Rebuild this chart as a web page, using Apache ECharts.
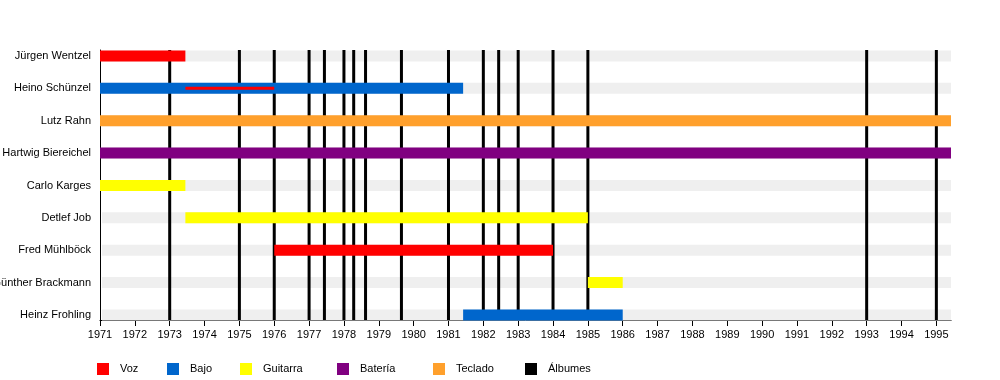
<!DOCTYPE html>
<html>
<head>
<meta charset="utf-8">
<script src="https://cdn.jsdelivr.net/npm/echarts@6/dist/echarts.min.js"></script>
<style>
html,body{margin:0;padding:0;background:#fff;}
#chart{width:1000px;height:380px;}
</style>
</head>
<body>
<div id="chart"></div>
<script>
// Members, top to bottom
const members = ["Jürgen Wentzel","Heino Schünzel","Lutz Rahn","Hartwig Biereichel","Carlo Karges","Detlef Job","Fred Mühlböck","Günther Brackmann","Heinz Frohling"];
// Periods per role: [member, start, end]
const vozPeriods = [["Jürgen Wentzel",1971,1973.45],["Fred Mühlböck",1976,1984]];
const vozSecondary = [["Heino Schünzel",1973.45,1976]];
const bajoPeriods = [["Heino Schünzel",1971,1981.42],["Heinz Frohling",1981.42,1986]];
const guitarraPeriods = [["Carlo Karges",1971,1973.45],["Detlef Job",1973.45,1985],["Günther Brackmann",1985,1986]];
const bateriaPeriods = [["Hartwig Biereichel",1971,1995.42]];
const tecladoPeriods = [["Lutz Rahn",1971,1995.42]];
// Album release dates
const albums = [1973,1975,1976,1977,1977.44,1978,1978.28,1978.62,1979.65,1981,1982,1982.44,1983,1984,1985,1993,1995];
// Axis
const years = [1971,1972,1973,1974,1975,1976,1977,1978,1979,1980,1981,1982,1983,1984,1985,1986,1987,1988,1989,1990,1991,1992,1993,1994,1995];
const timelineStart = 1971, timelineEnd = 1995.42;

const FONT = '"Liberation Sans", Arial, sans-serif';
const rowIdx = name => members.length - 1 - members.indexOf(name);
const toData = arr => arr.map(p => [p[1], p[2], rowIdx(p[0])]);

function barRender(h){
  return function(params, api){
    const s = api.coord([api.value(0), api.value(2)]);
    const e = api.coord([api.value(1), api.value(2)]);
    return {type:'rect', shape:{x:s[0], y:s[1]-h/2, width:e[0]-s[0], height:h}, style:{fill: api.visual('color')}};
  };
}
function roleSeries(name, color, periods, h){
  return {name, type:'custom', z:3, silent:true, itemStyle:{color},
    encode:{x:[0,1], y:2}, data: toData(periods), renderItem: barRender(h)};
}

const chart = echarts.init(document.getElementById('chart'), null, {renderer:'canvas'});
const legendItems = [["Voz",97],["Bajo",167],["Guitarra",240],["Batería",337],["Teclado",433],["Álbumes",525]];

chart.setOption({
  animation:false,
  backgroundColor:'#fff',
  textStyle:{fontFamily:FONT},
  grid:{left:100, right:49, top:50, bottom:60, containLabel:false, outerBoundsMode:'none'},
  xAxis:{type:'value', min:timelineStart, max:timelineEnd, position:'bottom',
    axisLine:{show:true, onZero:false, lineStyle:{color:'#000', width:1}},
    axisTick:{show:true, inside:false, length:6, lineStyle:{color:'#000', width:1}, customValues:years},
    axisLabel:{color:'#000', fontSize:11, fontFamily:FONT, margin:9, customValues:years, formatter:v=>String(Math.round(v))},
    splitLine:{show:false}},
  yAxis:{type:'value', min:-0.155, max:8.185,
    axisLine:{show:true, onZero:false, lineStyle:{color:'#000', width:1}},
    axisTick:{show:false},
    axisLabel:{color:'#000', fontSize:11, fontFamily:FONT, margin:9, customValues:members.map((m,i)=>i),
      formatter:v=>members[members.length-1-Math.round(v)]},
    splitLine:{show:false}},
  legend: legendItems.map(([n,x]) => ({data:[n], left:x, top:363, icon:'rect', itemWidth:12, itemHeight:12,
    selectedMode:false, padding:0, textStyle:{color:'#000', fontSize:11, fontFamily:FONT, padding:[0,0,0,6]}})),
  series:[
    {name:'bands', type:'custom', z:1, silent:true, encode:{y:0},
      data: members.map((m,i)=>[i]),
      renderItem:function(params, api){
        const c = api.coord([timelineStart, api.value(0)]);
        const cs = params.coordSys;
        return {type:'rect', shape:{x:cs.x+2, y:c[1]-5.5, width:cs.width-2, height:11}, style:{fill:'#efefef'}};
      }},
    {name:'Álbumes', type:'custom', z:2, silent:true, itemStyle:{color:'#000'}, encode:{x:0},
      data: albums.map(a=>[a]),
      renderItem:function(params, api){
        const x = api.coord([api.value(0), 0])[0];
        const cs = params.coordSys;
        return {type:'line', shape:{x1:x, y1:cs.y, x2:x, y2:cs.y+cs.height}, style:{stroke:'#000', lineWidth:3}};
      }},
    roleSeries('Voz','#ff0000',vozPeriods,11),
    roleSeries('Bajo','#0066cc',bajoPeriods,11),
    roleSeries('Guitarra','#ffff00',guitarraPeriods,11),
    roleSeries('Batería','#800080',bateriaPeriods,11),
    roleSeries('Teclado','#ffa02c',tecladoPeriods,11),
    Object.assign(roleSeries('Voz','#ff0000',vozSecondary,3), {z:4})
  ]
});
</script>
</body>
</html>
